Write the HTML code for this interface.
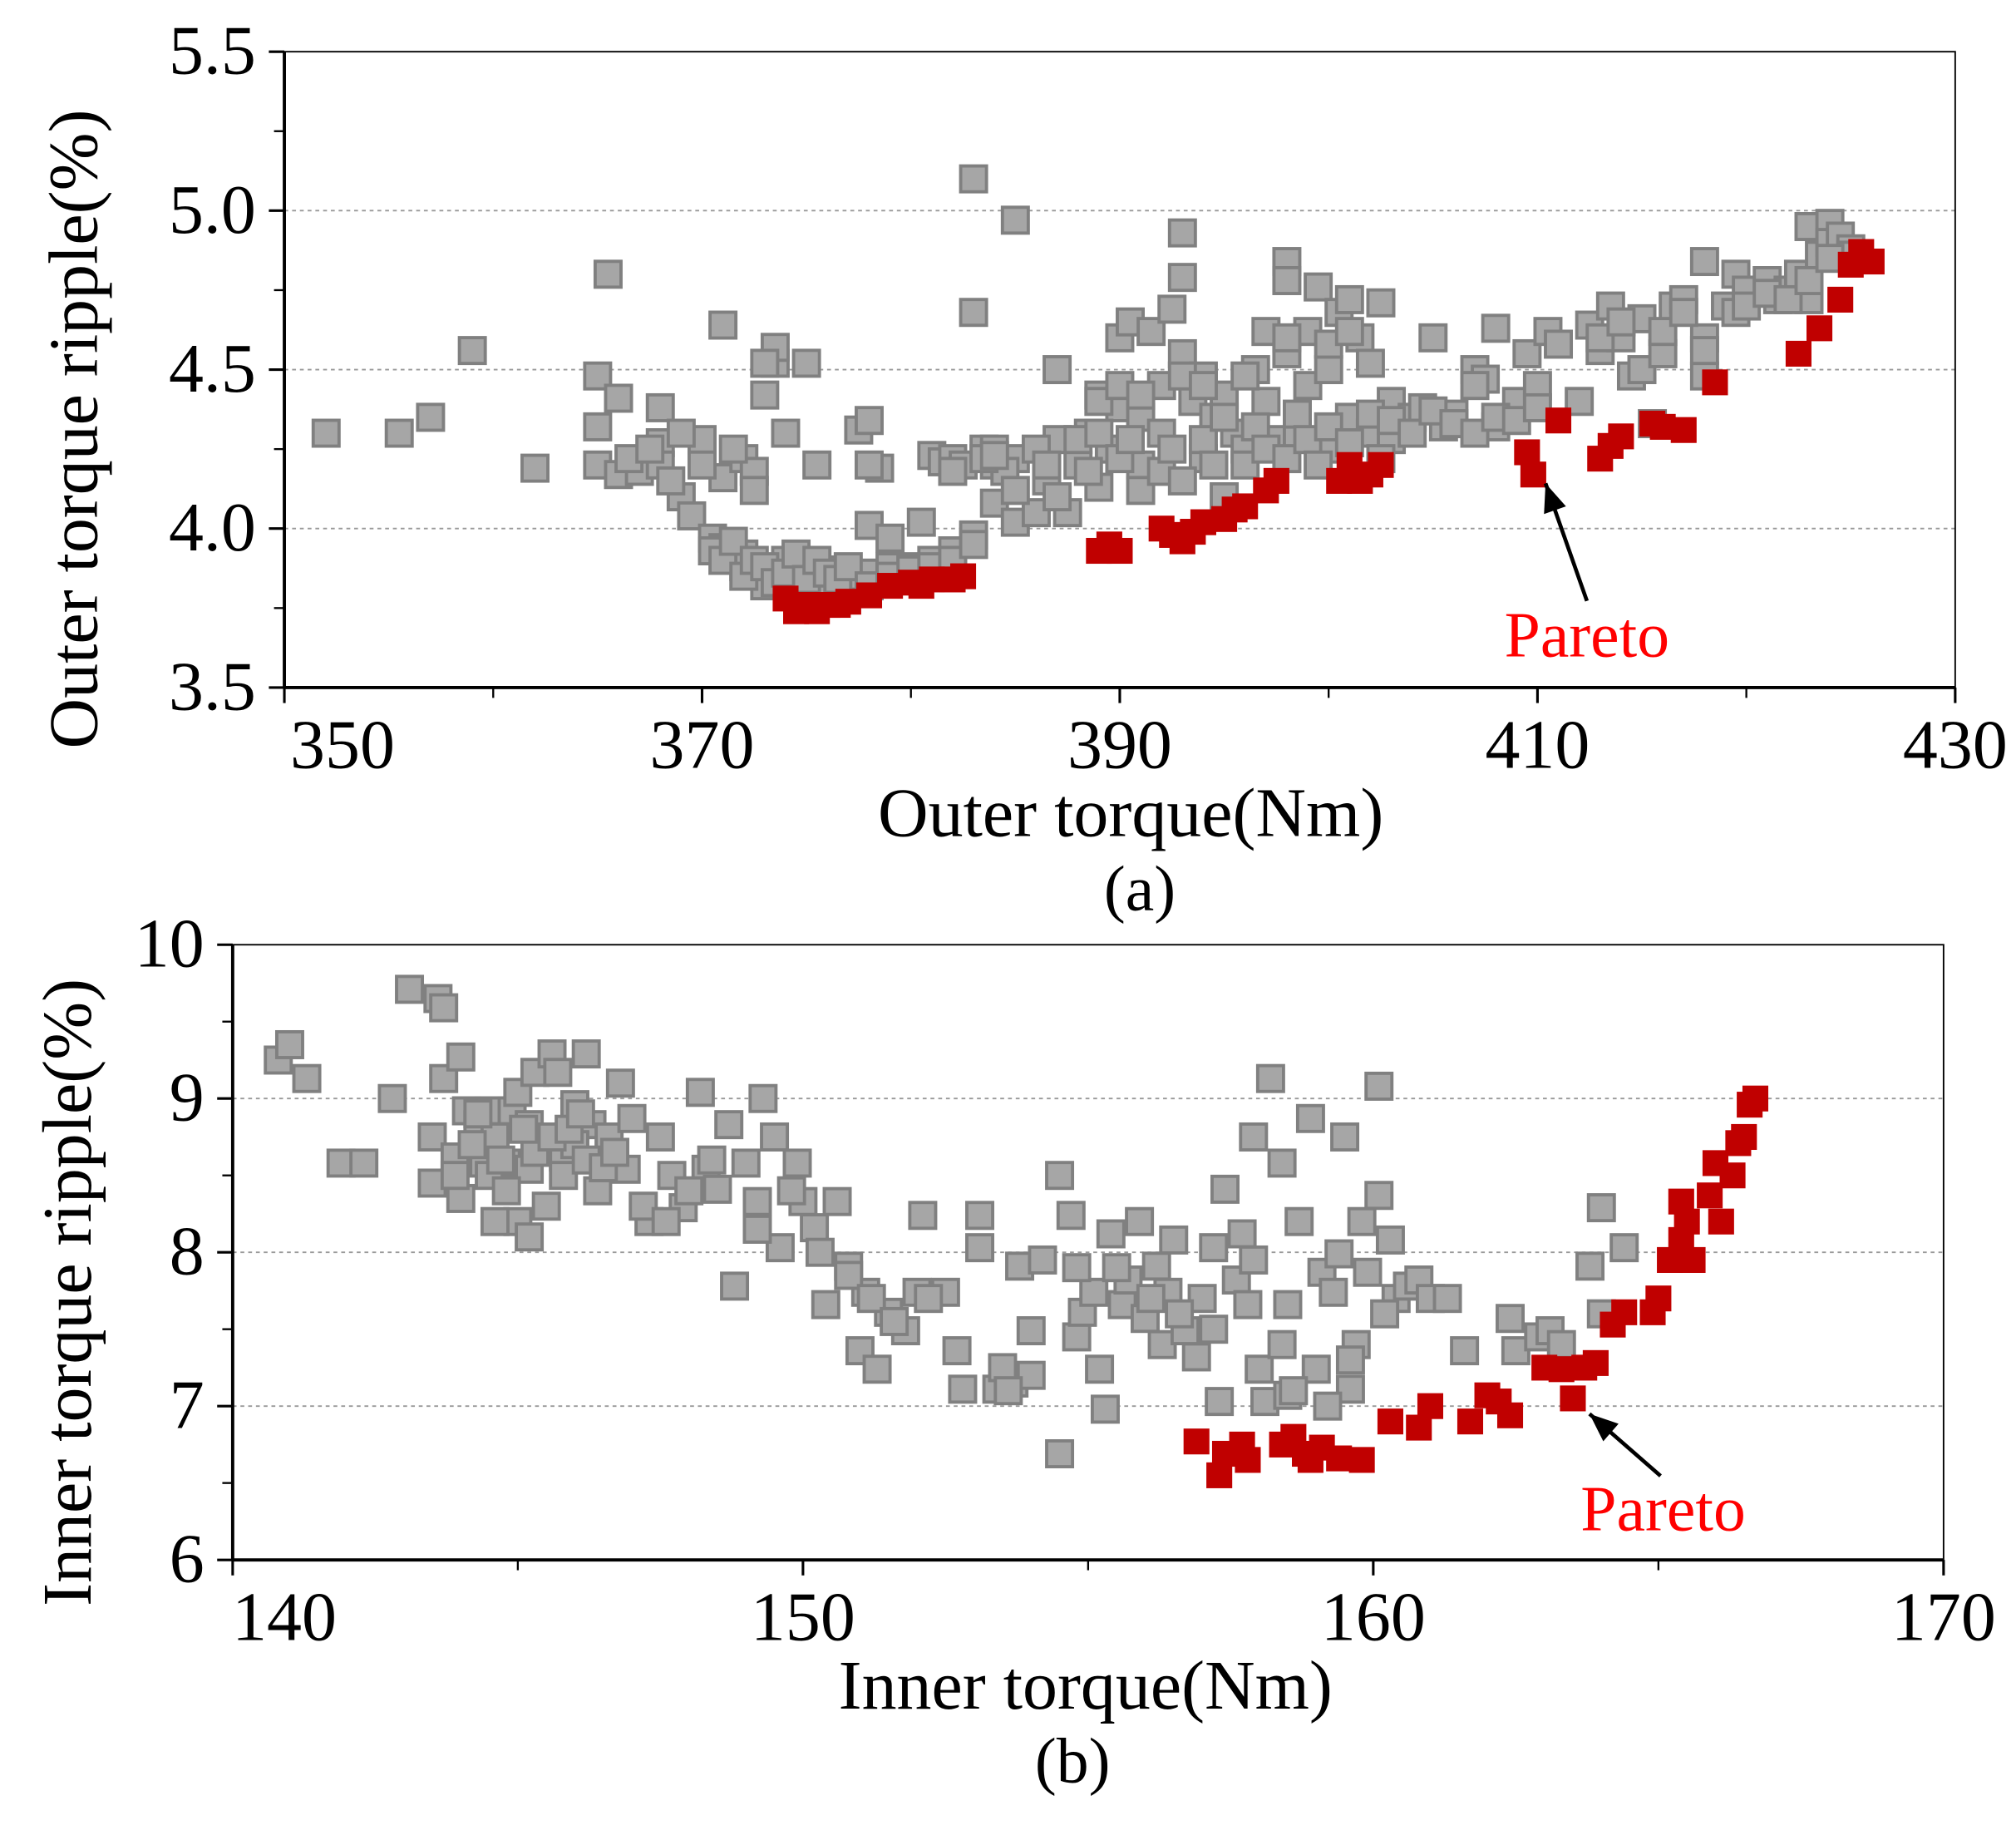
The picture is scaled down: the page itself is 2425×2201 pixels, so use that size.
<!DOCTYPE html>
<html><head><meta charset="utf-8"><style>
html,body{margin:0;padding:0;background:#fff;}
svg{display:block;}
text{font-family:"Liberation Serif",serif;}
</style></head><body>
<svg id="fig" width="2425" height="2201" viewBox="0 0 1560 1416" xmlns="http://www.w3.org/2000/svg"></svg>
<script>
// ---- Chart (a) data ----
const aGrayX=[352,355.5,357,359,362,365.5,365,365,366,365,366,367,368,368,368,369,369.5,370,370.5,371,371,371,372,372,372,372.5,373,373,373,373.5,373.5,374,374,374.5,375,375,375.5,376,376,377,377.5,378,378,378,378.5,379,379,380,380.5,381,381,381.5,382,382,382.5,383,383,383,383.5,384,384,385,385,385,386,386.5,387,387,387.5,388,388.5,389,389,389.5,390,390,390.5,391,391,391.5,392,392,392.5,393,393,393,393.5,394,394,394.5,395,395,395.5,396,396.5,397,397,397.5,398,398,398,398.5,399,399,399.5,400,400,400.5,401,401,401.5,402,402,402.5,403,403,404,404.5,405,405.5,406,407,407.5,408,408,409,409.5,410,410.5,411,412,412.5,413,413.5,414,414.5,415,415,415.5,416,416.5,417,418,418,418,419,419.5,420,421,421.5,422,422.5,423,423,423.5,424,424,424.5,425,425,
370.5,371,371.5,372,372.5,373,373.5,374,374.5,375,375.5,376,376.5,377,378,379,380,381,382,383,384,384.5,385,386,386.5,387,388,388.5,389,390,390.5,391,392,392.5,393,394,394.5,395,396,396.5,397,398,398.5,399,399.5,400,401,402,402.5,403,404,405,406,407,408,409,410,366.5,367.5,368.5,369,370,371.5,372.5,373,378,382,383.5,384,389,390,391,393,394,396,398,400,401,407,413,414,416,417,418,419.5,420,421,422,423,424];
const aGrayY=[4.30,4.30,4.35,4.56,4.19,4.80,4.48,4.32,4.41,4.20,4.17,4.18,4.38,4.27,4.20,4.10,4.04,4.28,3.97,3.94,4.16,4.64,4.22,3.92,3.88,4.18,3.86,3.82,4.42,4.52,4.57,4.30,3.90,3.85,3.88,4.52,4.20,3.87,3.82,3.85,4.31,4.34,4.01,3.86,4.19,3.97,3.88,3.88,4.02,3.90,4.23,4.21,4.22,3.93,4.20,5.10,4.68,3.98,4.25,4.08,4.20,4.97,4.22,4.02,4.05,4.15,4.50,4.28,4.05,4.20,4.30,4.42,4.13,4.25,4.60,4.38,4.65,4.35,4.20,4.62,4.45,4.30,4.69,4.93,4.79,4.55,4.40,4.22,4.48,4.35,4.42,4.10,4.30,4.25,4.50,4.40,4.62,4.28,4.84,4.78,4.55,4.30,4.45,4.62,4.76,4.25,4.50,4.68,4.72,4.35,4.60,4.30,4.52,4.71,4.40,4.28,4.35,4.38,4.60,4.32,4.36,4.50,4.47,4.63,4.32,4.40,4.55,4.45,4.62,4.58,4.40,4.64,4.56,4.70,4.60,4.48,4.50,4.66,4.33,4.55,4.70,4.72,4.84,4.60,4.48,4.70,4.80,4.75,4.78,4.72,4.75,4.80,4.95,4.72,4.86,4.96,4.90,4.92,4.88,4.86,
3.93,3.90,3.96,3.85,3.90,3.88,3.83,3.86,3.92,3.84,3.90,3.86,3.84,3.88,3.82,3.85,3.87,3.88,3.90,3.95,4.25,4.18,4.12,4.25,4.20,4.10,4.28,4.18,4.30,4.22,4.28,4.12,4.18,4.25,4.15,4.28,4.20,4.35,4.20,4.32,4.25,4.22,4.36,4.28,4.20,4.32,4.27,4.36,4.22,4.34,4.30,4.37,4.33,4.30,4.35,4.34,4.38,4.22,4.25,4.15,4.30,4.20,4.25,4.12,4.52,4.20,4.18,4.22,4.23,4.40,4.45,4.42,4.48,4.45,4.48,4.60,4.58,4.62,4.45,4.60,4.65,4.62,4.68,4.56,4.68,4.70,4.74,4.72,4.78,4.85];
const aRedX=[374,374.5,375,375.5,376,376.5,377,378,379,380,380.5,381,382,382.5,389,389.5,390,392,392.5,393,393.5,394,395,395.5,396,397,397.5,400.5,401,401.5,402,402.5,409.5,409.8,411,413,413.5,414,415.5,416,417,418.5,422.5,423.5,424.5,425,425.5,426];
const aRedY=[3.78,3.74,3.76,3.74,3.76,3.76,3.77,3.79,3.82,3.83,3.82,3.84,3.84,3.85,3.93,3.95,3.93,4.00,3.98,3.96,3.99,4.02,4.03,4.06,4.07,4.12,4.15,4.15,4.20,4.15,4.17,4.20,4.24,4.17,4.34,4.22,4.26,4.29,4.33,4.32,4.31,4.46,4.55,4.63,4.72,4.83,4.87,4.84];
const aXTicks=[350,370,390,410,430];
const aYTicks=["3.5","4.0","4.5","5.0","5.5"];
// ---- Chart (b) data ----
const bGrayX=[140.8,141.0,141.3,141.9,142.3,142.8,143.1,143.6,143.7,143.5,143.5,143.7,143.9,144.0,144.1,144.3,144.4,144.5,144.6,144.8,144.9,145.0,145.2,145.2,145.3,145.4,145.6,145.7,145.8,146.0,146.2,146.3,146.6,146.8,146.9,147.0,147.3,147.5,147.7,147.9,148.2,148.3,148.5,148.7,148.8,149.0,149.2,149.3,149.5,149.6,149.9,150.0,150.2,150.4,150.6,150.8,151.0,151.1,151.3,151.5,151.8,152.0,152.1,152.5,152.7,152.8,153.1,153.1,153.4,153.7,153.8,154.0,154.2,154.5,154.5,154.7,154.8,154.9,155.1,155.2,155.3,155.4,155.6,155.7,155.9,156.0,156.2,156.3,156.4,156.5,156.7,156.9,157.0,157.2,157.3,157.4,157.6,157.7,157.8,157.9,158.0,158.1,158.2,158.4,158.5,158.5,158.7,158.9,159.0,159.1,159.3,159.4,159.5,159.6,159.7,159.8,159.9,160.1,160.1,160.3,160.4,160.6,160.8,161.0,161.6,162.4,162.5,162.9,163.1,163.8,164.0,164.4,
144.2,144.5,144.8,145.0,145.2,145.5,145.8,146.0,146.2,146.4,144.6,145.3,145.6,145.9,146.1,146.5,144.0,143.9,144.3,144.7,145.1,146.7,147.2,147.6,148.0,148.4,149.2,149.8,150.3,150.8,151.2,151.6,152.2,153.5,154.0,155.5,156.1,156.6,157.2,157.9,158.4,158.6,159.2,159.6,160.2,161.3,163.3,164.0,153.6,154.8];
const bGrayY=[9.25,9.35,9.13,8.58,8.58,9.00,9.71,9.65,9.59,8.45,8.75,9.13,8.62,9.27,8.92,8.83,8.58,8.92,8.75,8.58,8.92,9.04,8.54,8.83,9.17,8.66,9.29,9.17,8.62,8.96,9.29,8.83,8.75,9.10,8.54,8.87,8.20,8.75,8.50,8.29,9.04,8.54,8.41,8.83,7.78,8.58,8.33,9.00,8.75,8.03,8.58,8.33,8.16,7.66,8.33,7.91,7.36,7.74,7.24,7.61,7.49,7.74,8.24,7.74,7.36,7.11,8.03,8.24,7.11,7.15,7.91,7.49,7.95,6.69,8.50,8.24,7.45,7.61,7.74,7.24,6.98,8.12,7.66,7.82,8.20,7.57,7.91,7.40,7.74,8.08,7.49,7.32,7.70,8.03,7.03,8.41,7.82,8.12,7.66,8.75,7.24,7.03,9.13,8.58,7.66,7.07,8.20,8.87,7.24,7.87,7.74,7.99,8.75,7.11,7.40,8.20,7.87,8.37,9.08,8.08,7.70,7.78,7.82,7.70,7.36,7.57,7.36,7.45,7.49,7.91,8.29,8.03,
8.7,8.5,8.4,8.2,8.1,8.3,8.5,8.7,8.6,8.4,8.2,8.65,8.75,8.8,8.9,8.55,8.35,8.5,8.9,8.6,8.8,8.65,8.3,8.2,8.4,8.6,8.15,8.4,8.0,7.85,7.7,7.55,7.7,7.25,7.2,7.9,7.7,7.6,7.5,7.95,7.4,7.1,7.0,7.3,7.6,7.7,7.4,7.6,7.1,7.9];
const bRedX=[156.9,157.3,157.4,157.7,157.8,158.4,158.6,158.8,158.9,159.1,159.4,159.8,160.3,160.8,161.0,161.7,162.0,162.2,162.4,163.0,163.3,163.5,163.7,163.9,164.2,164.4,164.9,165.0,165.2,165.4,165.4,165.5,165.6,165.9,166.0,166.1,166.3,166.4,166.5,166.6,166.7];
const bRedY=[6.77,6.55,6.69,6.75,6.65,6.75,6.80,6.69,6.65,6.73,6.66,6.65,6.90,6.86,7.00,6.90,7.07,7.03,6.94,7.25,7.24,7.05,7.25,7.28,7.53,7.61,7.61,7.70,7.95,8.08,8.33,8.20,7.95,8.37,8.58,8.20,8.50,8.71,8.75,8.96,9.00];
const bXTicks=[140,150,160,170];
const bYTicks=["6","7","8","9","10"];

const svg=document.getElementById('fig');
const NS='http://www.w3.org/2000/svg';
function mk(tag,attrs,parent){const e=document.createElementNS(NS,tag);for(const k in attrs)e.setAttribute(k,attrs[k]);(parent||svg).appendChild(e);return e;}
function txt(s,x,y,size,anchor,fill,parent){const t=mk('text',{x:x,y:y,'font-size':size,'text-anchor':anchor,fill:fill||'#000'},parent);t.textContent=s;return t;}

function chart(o){
  const g=mk('g',{});
  
  
  const sx=v=>o.x0+(v-o.xmin)/(o.xmax-o.xmin)*(o.x1-o.x0);
  const sy=v=>o.y1-(v-o.ymin)/(o.ymax-o.ymin)*(o.y1-o.y0);
  o.grid.forEach(v=>{const l=mk('line',{x1:o.x0,x2:o.x1,y1:sy(v),y2:sy(v),stroke:'#999','stroke-width':1.2,'stroke-dasharray':'3,3'},g);
    
    });
  const S=20;
  for(let i=0;i<o.gx.length;i++){const r=mk('rect',{x:sx(o.gx[i])-S/2,y:sy(o.gy[i])-S/2,width:S,height:S,fill:'#a6a6a6',stroke:'#808080','stroke-width':2.5},g);
    
    }
  for(let i=0;i<o.rx.length;i++){const r=mk('rect',{x:sx(o.rx[i])-S/2,y:sy(o.ry[i])-S/2,width:S,height:S,fill:'#c00000'},g);
    
    }
  const f=mk('rect',{x:o.x0,y:o.y0,width:o.x1-o.x0,height:o.y1-o.y0,fill:'none',stroke:'#000','stroke-width':1.2},g);
  
  
  mk('line',{x1:o.x0,x2:o.x1,y1:o.y1,y2:o.y1,stroke:'#000','stroke-width':2.5},g);
  mk('line',{x1:o.x0,x2:o.x0,y1:o.y0,y2:o.y1,stroke:'#000','stroke-width':2.5},g);
  o.xt.forEach((v,i)=>{const x=sx(v);mk('line',{x1:x,x2:x,y1:o.y1,y2:o.y1+12,stroke:'#000','stroke-width':2},g);
    const lx=(i===0&&o.firstShift)?x+o.firstShift:x;
    const t=txt(String(v),lx,o.y1+62,54,'middle','#000',g);
    
    
    if(i<o.xt.length-1){const m=sx((v+o.xt[i+1])/2);mk('line',{x1:m,x2:m,y1:o.y1,y2:o.y1+8,stroke:'#000','stroke-width':1.5},g);}});
  o.yt.forEach((s,i)=>{const v=parseFloat(s);const y=sy(v);mk('line',{x1:o.x0-12,x2:o.x0,y1:y,y2:y,stroke:'#000','stroke-width':2},g);
    const t=txt(s,o.x0-22,y+17,54,'end','#000',g);
    
    
    if(i<o.yt.length-1){const v2=parseFloat(o.yt[i+1]);const m=sy((v+v2)/2);mk('line',{x1:o.x0-8,x2:o.x0,y1:m,y2:m,stroke:'#000','stroke-width':1.5},g);}});
  const xt=txt(o.xtitle,o.xtx,o.y1+115,54,'middle','#000',g);
  
  
  const yt=txt(o.ytitle,0,0,54,'middle','#000',g);
  yt.setAttribute('transform','translate('+o.ytx+','+o.ytc+') rotate(-90)');
  
  
  const cap=txt(o.cap,o.capx,o.y1+172,50,'middle','#000',g);
  
  
  const a=o.ann;
  const ln=mk('line',{x1:a.fx,y1:a.fy,x2:a.tx,y2:a.ty,stroke:'#000','stroke-width':3},g);
  
  
  const ang=Math.atan2(a.ty-a.fy,a.tx-a.fx),L=22,W=9;
  const bx=a.tx-L*Math.cos(ang),by=a.ty-L*Math.sin(ang);
  mk('polygon',{points:a.tx+','+a.ty+' '+(bx+W*Math.sin(ang))+','+(by-W*Math.cos(ang))+' '+(bx-W*Math.sin(ang))+','+(by+W*Math.cos(ang)),fill:'#000'},g);
  const pt=txt('Pareto',a.lx,a.ly,50,'middle','#ff0000',g);
  
  
}
chart({name:'chart-a-outer',x0:220,x1:1513,y0:40,y1:532,xmin:350,xmax:430,ymin:3.5,ymax:5.5,
  gx:aGrayX,gy:aGrayY,rx:aRedX,ry:aRedY,xt:aXTicks,yt:aYTicks,grid:[4.0,4.5,5.0],firstShift:45,
  xtitle:'Outer torque(Nm)',xtx:875,ytitle:'Outer torque ripple(%)',ytx:75,ytc:332,cap:'(a)',capx:882,
  ann:{fx:1228,fy:465,tx:1196,ty:374,lx:1228,ly:508}});
chart({name:'chart-b-inner',x0:180,x1:1504,y0:731,y1:1207,xmin:140,xmax:170,ymin:6,ymax:10,
  gx:bGrayX,gy:bGrayY,rx:bRedX,ry:bRedY,xt:bXTicks,yt:bYTicks,grid:[7,8,9],firstShift:40,
  xtitle:'Inner torque(Nm)',xtx:840,ytitle:'Inner torque ripple(%)',ytx:70,ytc:1000,cap:'(b)',capx:830,
  ann:{fx:1285,fy:1142,tx:1230,ty:1094,lx:1287,ly:1184}});
</script>
</body></html>
